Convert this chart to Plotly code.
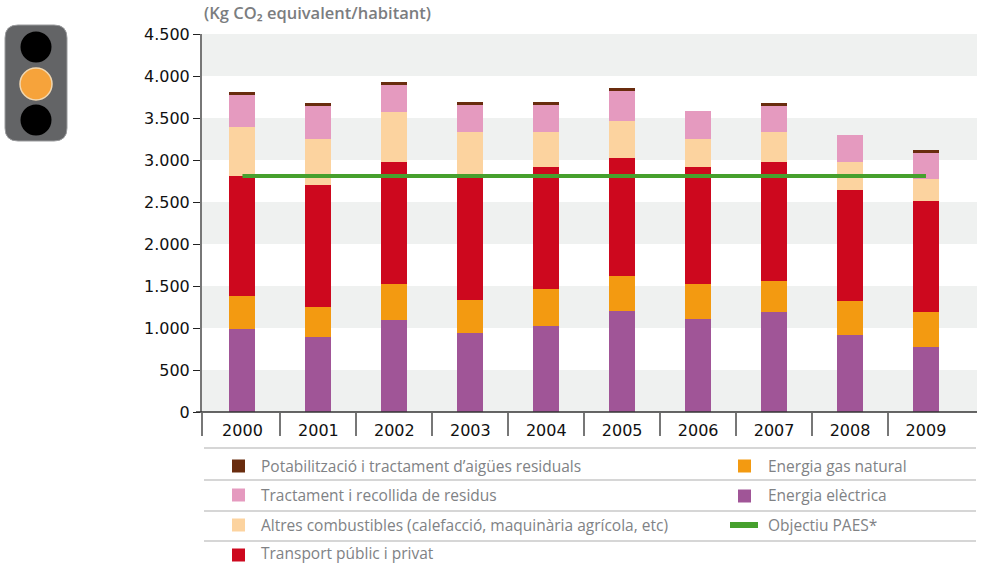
import plotly.graph_objects as go

W, H = 981, 568
L, R, T, B = 202, 977, 34, 412

years = [2000, 2001, 2002, 2003, 2004, 2005, 2006, 2007, 2008, 2009]
electric = [988, 893, 1095, 940, 1024, 1202, 1107, 1190, 917, 774]
gas = [393, 357, 429, 393, 440, 417, 417, 370, 404, 416]
transport = [1429, 1452, 1452, 1477, 1453, 1405, 1393, 1416, 1322, 1322]
other_fuel = [583, 548, 595, 523, 416, 440, 333, 357, 333, 262]
waste = [381, 393, 322, 322, 322, 357, 333, 310, 322, 309]
water = [36, 36, 36, 35, 35, 36, 0, 36, 0, 36]
target = [2810] * 10
y_ticks = [0, 500, 1000, 1500, 2000, 2500, 3000, 3500, 4000, 4500]
y_labels = ["0", "500", "1.000", "1.500", "2.000", "2.500", "3.000", "3.500", "4.000", "4.500"]
bands = [(0, 500), (1000, 1500), (2000, 2500), (3000, 3500), (4000, 4500)]

C_EL, C_GAS, C_TR = "#a05597", "#f39a11", "#cd081e"
C_OT, C_WA, C_WT, C_T = "#fcd39f", "#e59abf", "#692c0e", "#46a02d"
FONT = "Open Sans"
TICKFONT = "DejaVu Sans"
GREY = "#808285"
X_RANGE = [1999.467, 2009.672]


def px(x):
    return (x - L) / (R - L)


def py(y):
    return (B - y) / (B - T)


fig = go.Figure()
for name, vals, col in [
    ("Energia elèctrica", electric, C_EL),
    ("Energia gas natural", gas, C_GAS),
    ("Transport públic i privat", transport, C_TR),
    ("Altres combustibles (calefacció, maquinària agrícola, etc)", other_fuel, C_OT),
    ("Tractament i recollida de residus", waste, C_WA),
    ("Potabilització i tractament d’aigües residuals", water, C_WT),
]:
    fig.add_trace(go.Bar(x=years, y=vals, name=name, marker=dict(color=col, line_width=0), width=0.342))
fig.add_trace(go.Scatter(x=years, y=target, mode="lines", name="Objectiu PAES*",
                         line=dict(color=C_T, width=4)))

shapes = []
for lo, hi in bands:
    shapes.append(dict(type="rect", xref="paper", yref="y", x0=0, x1=1, y0=lo, y1=hi,
                       fillcolor="#eff1f0", line_width=0, layer="below"))


def pshape(kind, x0, y0, x1, y1, **kw):
    shapes.append(dict(type=kind, xref="paper", yref="paper", x0=px(x0), x1=px(x1),
                       y0=py(y0), y1=py(y1), **kw))


# baseline and legend rules
pshape("line", 196, 412, 977, 412, line=dict(color="#333333", width=1.5))
for ry in [448, 480, 511, 541]:
    pshape("line", 204, ry, 976, ry, line=dict(color="#c8c9c9", width=1.5))

# legend keys
for sx, sy, col in [(232, 466, C_WT), (232, 495, C_WA), (232, 525, C_OT), (232, 555, C_TR),
                    (738, 466, C_GAS), (738, 496, C_EL)]:
    pshape("rect", sx, sy - 6.5, sx + 13, sy + 6.5, fillcolor=col, line_width=0)
pshape("rect", 730, 522, 758, 528, fillcolor=C_T, line_width=0)

# traffic light
x0, x1, y0, y1, r = 5, 67, 25, 141, 13
path = (f"M {px(x0 + r)} {py(y0)} L {px(x1 - r)} {py(y0)} "
        f"Q {px(x1)} {py(y0)} {px(x1)} {py(y0 + r)} L {px(x1)} {py(y1 - r)} "
        f"Q {px(x1)} {py(y1)} {px(x1 - r)} {py(y1)} L {px(x0 + r)} {py(y1)} "
        f"Q {px(x0)} {py(y1)} {px(x0)} {py(y1 - r)} L {px(x0)} {py(y0 + r)} "
        f"Q {px(x0)} {py(y0)} {px(x0 + r)} {py(y0)} Z")
shapes.append(dict(type="path", xref="paper", yref="paper", path=path,
                   fillcolor="#636466", line=dict(color="#9a9b9d", width=1)))
for cy in [47, 120]:
    pshape("circle", 36 - 15.5, cy - 15.5, 36 + 15.5, cy + 15.5, fillcolor="#000000", line_width=0)
pshape("circle", 36 - 16, 84 - 16, 36 + 16, 84 + 16, fillcolor="#f6a33b",
       line=dict(color="#f1d7b0", width=1.5))

ann = [dict(text="(Kg CO₂ equivalent/habitant)", x=px(202), y=py(12),
            font=dict(family=FONT, size=16.5, color="#7b7d80", weight=600))]
for tx, ty, t in [
    (259, 466, "Potabilització i tractament d’aigües residuals"),
    (259, 495, "Tractament i recollida de residus"),
    (259, 525, "Altres combustibles (calefacció, maquinària agrícola, etc)"),
    (259, 553, "Transport públic i privat"),
    (766, 466, "Energia gas natural"),
    (766, 495, "Energia elèctrica"),
    (766, 525, "Objectiu PAES*"),
]:
    ann.append(dict(text=t, x=px(tx), y=py(ty), font=dict(family=FONT, size=15.5, color=GREY)))
for a in ann:
    a.update(xref="paper", yref="paper", xanchor="left", yanchor="middle", showarrow=False)

fig.update_layout(
    width=W, height=H, autosize=False,
    margin=dict(l=L, r=W - R, t=T, b=H - B, pad=0),
    barmode="stack", showlegend=False,
    paper_bgcolor="white", plot_bgcolor="white",
    font=dict(family=FONT, color="#000000", size=15),
    shapes=shapes, annotations=ann,
    xaxis=dict(range=X_RANGE, tickmode="array", tickvals=years,
               ticktext=[str(v) for v in years], ticks="", showgrid=False, zeroline=False,
               showline=False, ticklabelstandoff=7,
               tickfont=dict(family=TICKFONT, size=16, color="#111111"),
               minor=dict(tickmode="array", tickvals=[X_RANGE[0]] + [v + 0.5 for v in years[:-1]],
                          ticks="outside", ticklen=23, tickwidth=1.5, tickcolor="#777777",
                          showgrid=False)),
    yaxis=dict(range=[0, 4500], tickmode="array", tickvals=y_ticks, ticktext=y_labels,
               ticks="outside", ticklen=7, tickwidth=1, tickcolor="#222222",
               showgrid=False, zeroline=False, showline=True, linecolor="#777777", linewidth=2,
               tickfont=dict(family=TICKFONT, size=16, color="#111111")),
)
fig.write_html("out.html", config={"displayModeBar": False},
               post_script="document.body.style.margin='0';document.documentElement.style.overflow='hidden';")
